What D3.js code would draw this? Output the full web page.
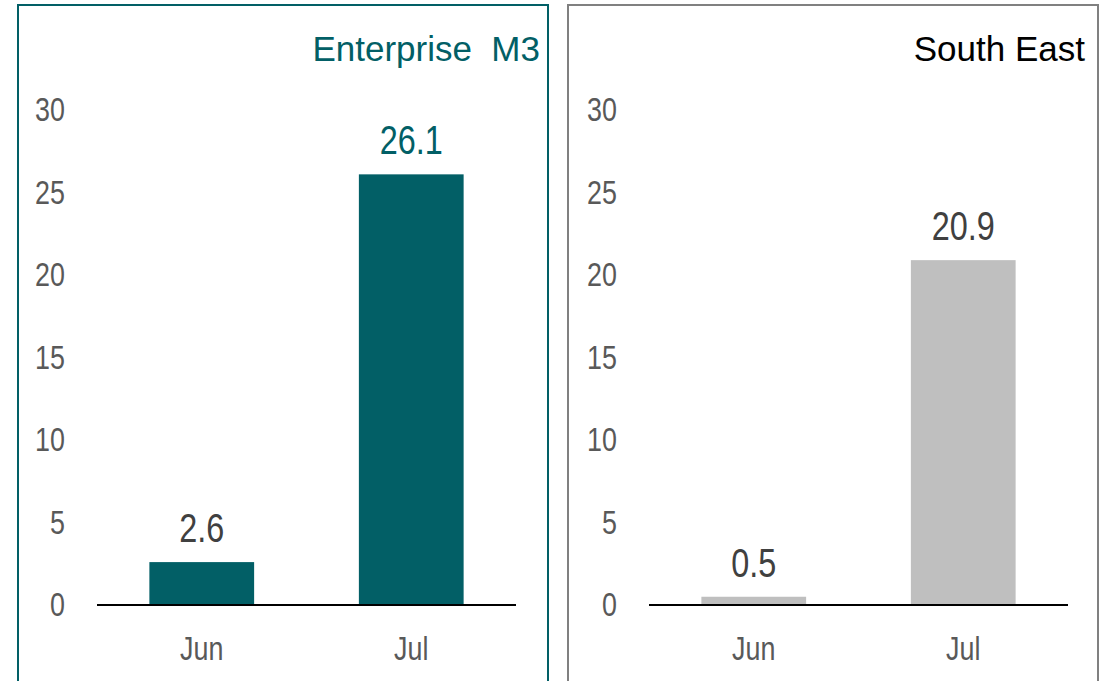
<!DOCTYPE html>
<html>
<head>
<meta charset="utf-8">
<script src="https://cdn.jsdelivr.net/npm/d3@7"></script>
<style>
  body { margin: 0; background: #fff; }
  svg text { font-family: "Liberation Sans Narrow", "Arial Narrow", "Liberation Sans", Arial, sans-serif; }
</style>
</head>
<body>
<div id="chart"></div>
<script>
// data
var months = ["Jun", "Jul"];
var enterpriseM3 = [2.6, 26.1];
var southEast = [0.5, 20.9];
var yTicks = [0, 5, 10, 15, 20, 25, 30];
var panelTitles = ["Enterprise  M3", "South East"];

var w = 1107, h = 681;
var teal = "#025F66";
var narrow = 0.79; // no narrow font installed, so squeeze the glyphs

var svg = d3.select("#chart").append("svg")
    .attr("width", w)
    .attr("height", h);

function condense(sel){
    sel.each(function(){
        var len = this.getComputedTextLength();
        d3.select(this)
            .attr("textLength", len * narrow)
            .attr("lengthAdjust", "spacingAndGlyphs");
    });
}

var panels = [
    { title: panelTitles[0], values: enterpriseM3, left: 18, right: 548, plotLeft: 97, plotRight: 516, titleEnd: 540,
      border: teal, bar: teal, titleColor: teal, labelColors: ["#404040", teal] },
    { title: panelTitles[1], values: southEast, left: 568, right: 1098, plotLeft: 649, plotRight: 1068, titleEnd: 1085,
      border: "#808080", bar: "#BFBFBF", titleColor: "#000", labelColors: ["#404040", "#404040"] }
];

var y = d3.scaleLinear().domain([0, 30]).range([605, 110]);

panels.forEach(function(p){
    var g = svg.append("g");

    // panel frame (open at the bottom, runs past the picture)
    g.append("rect")
        .attr("x", p.left)
        .attr("y", 5)
        .attr("width", p.right - p.left)
        .attr("height", h + 20)
        .attr("fill", "none")
        .attr("stroke", p.border)
        .attr("stroke-width", 2);

    // title is in the regular width face
    g.append("text")
        .attr("x", p.titleEnd)
        .attr("y", 61)
        .attr("text-anchor", "end")
        .style("white-space", "pre")
        .style("font-family", "'Liberation Sans', Arial, sans-serif")
        .attr("font-size", 35)
        .attr("fill", p.titleColor)
        .text(p.title);

    var x = d3.scaleBand().domain(months)
        .range([p.plotLeft, p.plotRight])
        .paddingInner(0.5)
        .paddingOuter(0.25);

    // y axis labels only
    var yAxis = g.append("g")
        .attr("transform", "translate(" + (p.plotLeft - 32) + ",0)")
        .call(d3.axisLeft(y).tickValues(yTicks).tickSize(0).tickPadding(0));
    yAxis.select(".domain").remove();
    yAxis.selectAll("text")
        .attr("font-size", 34)
        .attr("fill", "#595959")
        .attr("font-family", null)
        .call(condense);

    var data = months.map(function(m, i){ return { m: m, v: p.values[i], c: p.labelColors[i] }; });

    g.selectAll("rect.bar")
        .data(data)
        .enter()
        .append("rect")
        .attr("class", "bar")
        .attr("x", function(d){ return x(d.m); })
        .attr("y", function(d){ return y(d.v); })
        .attr("width", x.bandwidth())
        .attr("height", function(d){ return y(0) - y(d.v); })
        .attr("fill", p.bar);

    g.selectAll("text.val")
        .data(data)
        .enter()
        .append("text")
        .attr("class", "val")
        .attr("x", function(d){ return x(d.m) + x.bandwidth() / 2; })
        .attr("y", function(d){ return y(d.v) - 20; })
        .attr("text-anchor", "middle")
        .attr("font-size", 41)
        .attr("fill", function(d){ return d.c; })
        .text(function(d){ return d.v.toFixed(1); })
        .call(condense);

    // baseline
    g.append("line")
        .attr("x1", p.plotLeft)
        .attr("x2", p.plotRight)
        .attr("y1", y(0))
        .attr("y2", y(0))
        .attr("stroke", "#000")
        .attr("stroke-width", 2);

    g.selectAll("text.cat")
        .data(months)
        .enter()
        .append("text")
        .attr("class", "cat")
        .attr("x", function(d){ return x(d) + x.bandwidth() / 2; })
        .attr("y", 660)
        .attr("text-anchor", "middle")
        .attr("font-size", 34)
        .attr("fill", "#595959")
        .text(function(d){ return d; })
        .call(condense);
});
</script>
</body>
</html>
